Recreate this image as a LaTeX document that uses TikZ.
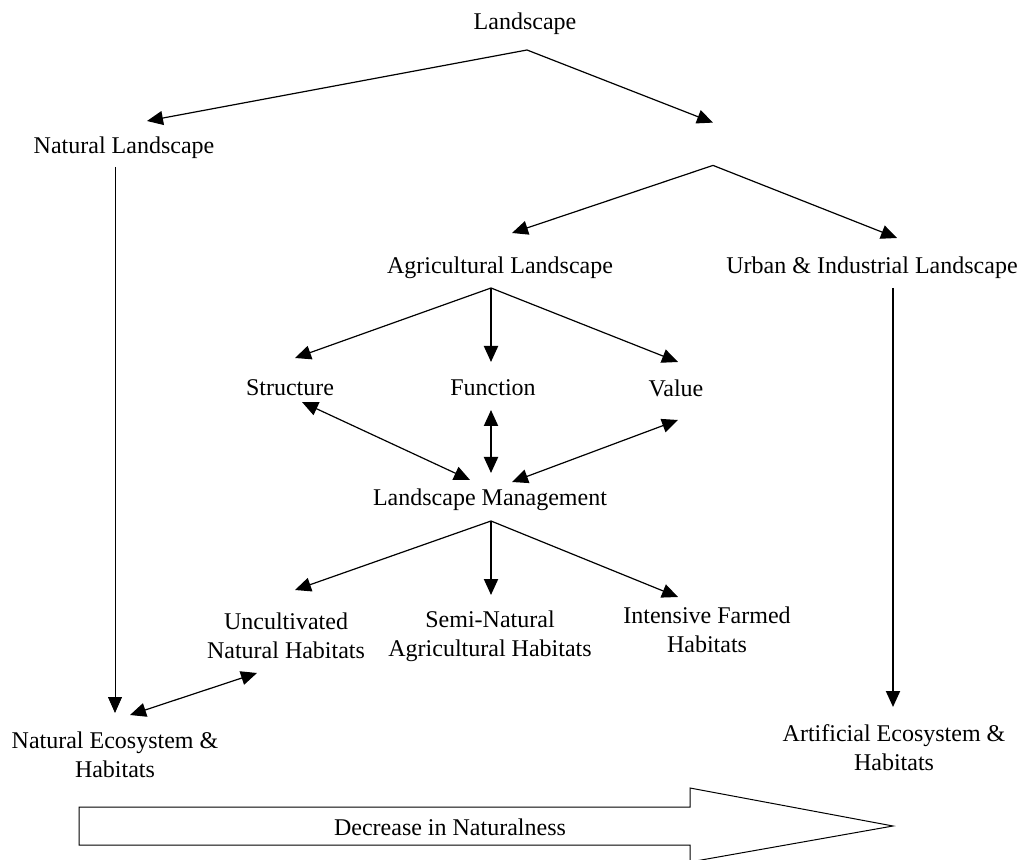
\documentclass[tikz,border=0pt]{standalone}
\usepackage{fontspec}
\setmainfont{Liberation Serif}
\usetikzlibrary{arrows.meta}
\begin{document}
\begin{tikzpicture}
  [x=0.5pt,y=-0.5pt,
   every node/.style={align=center,inner sep=0pt,font=\fontsize{12}{14.5}\selectfont},
   tip/.style={line width=0.6pt,-{Triangle[length=8pt,width=7pt]}},
   twotip/.style={line width=0.6pt,{Triangle[length=8pt,width=7pt]}-{Triangle[length=8pt,width=7pt]}}]
\useasboundingbox (0,0) rectangle (1022,860);
\node (land) at (525,24) {Landscape};
\node (nat) at (124,148) {Natural Landscape};
\node (hum) [minimum height=21pt] at (713,144) {};
\node (agri) at (500,268) {Agricultural Landscape};
\node (urb) at (872,268) {Urban \& Industrial Landscape};
\node (str) at (290,388) {Structure};
\node (fun) at (493,388) {Function};
\node (val) at (676,388) {Value};
\node (mgmt) at (490,500) {Landscape Management};
\node (unc) at (286,636) {Uncultivated\\Natural Habitats};
\node (semi) at (490,636) {Semi-Natural\\Agricultural Habitats};
\node (int) at (707,630) {Intensive Farmed\\Habitats};
\node (neco) at (115,755) {Natural Ecosystem \&\\Habitats};
\node (aeco) at (894,748) {Artificial Ecosystem \&\\Habitats};
\coordinate (landfork) at (527,50);
\coordinate (agrifork) at (491,288);
\coordinate (mgmtfork) at (491,521);
% tree
\path [tip] (landfork) edge ([shift={(23,-27)}]nat.center)
  (landfork) edge (hum.north)
  (hum.south) edge ([shift={(12,-35)}]agri.center)
  (hum.south) edge ([shift={(25,-30)}]urb.center)
  (agrifork) edge ([shift={(5,-30)}]str.center)
  (agrifork) edge ([shift={(2,-26)}]val.center)
  (mgmtfork) edge ([shift={(9,-46)}]unc.center)
  (mgmtfork) edge ([shift={(-29,-33)}]int.center);
\path [tip, line width=1pt] (agrifork) edge ([shift={(-2,-26)}]fun.center)
  (mgmtfork) edge ([shift={(1,-41)}]semi.center)
  ([shift={(21,20)}]urb.center) edge ([shift={(-1,-41)}]aeco.center);
\path [tip, line width=0.4pt] ([shift={(-9,19)}]nat.center) edge ([shift={(0,-42)}]neco.center);
\path [twotip] ([shift={(12,14)}]str.center) edge ([shift={(-20,-20)}]mgmt.center)
  ([shift={(2,32)}]val.center) edge ([shift={(22,-18)}]mgmt.center)
  ([shift={(-29,37)}]unc.center) edge ([shift={(15,-40)}]neco.center);
\path [twotip, line width=1pt] ([shift={(-2,22)}]fun.center) edge ([shift={(1,-27)}]mgmt.center);
% big arrow
\draw [line width=0.5pt] (79,807) -- (690,807) -- (690,788) -- (893,826)
  -- (690,862) -- (690,845) -- (79,845) -- cycle;
\node (decr) at (450,827) {Decrease in Naturalness};
\end{tikzpicture}
\end{document}
